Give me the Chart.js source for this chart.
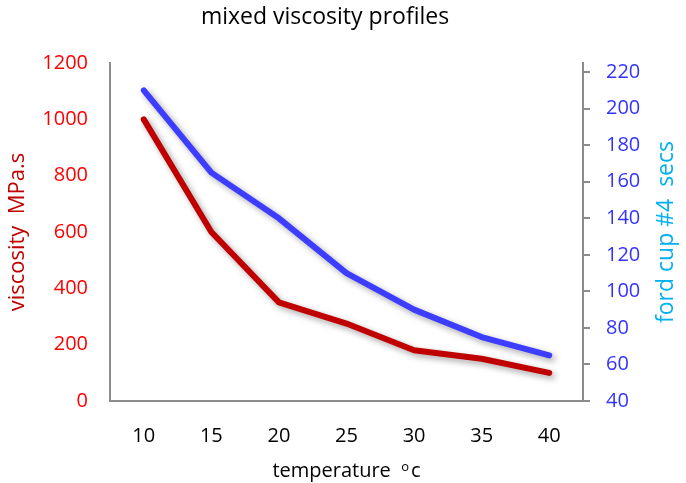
<!DOCTYPE html>
<html lang="en">
<head>
  <meta charset="UTF-8" />
  <title>mixed viscosity profiles</title>
  <script src="https://cdn.jsdelivr.net/npm/chart.js"></script>
  <style>
    body {
      margin: 0;
      background: #fff;
    }
  </style>
</head>
<body>
  <canvas id="chart" width="686" height="483"></canvas>

  <script>
    const temperatures = ["10", "15", "20", "25", "30", "35", "40"];
    const viscosity = [1000, 600, 350, 275, 180, 150, 100];
    const fordCup = [210, 165, 140, 110, 90, 75, 65];
    const rightTicks = [40, 60, 80, 100, 120, 140, 160, 180, 200, 220];

    const FONT = "'Open Sans', sans-serif";
    const axisGrey = "#8c8c8c";

    // soft drop shadow under each line, like the original
    const lineShadow = {
      id: "lineShadow",
      beforeDatasetDraw(chart) {
        const ctx = chart.ctx;
        ctx.save();
        ctx.shadowColor = "rgba(0,0,0,0.35)";
        ctx.shadowBlur = 6;
        ctx.shadowOffsetX = 3;
        ctx.shadowOffsetY = 3;
      },
      afterDatasetDraw(chart) {
        chart.ctx.restore();
      }
    };

    // texts chart.js can't place quite like the original:
    // off-centre title, bottom-to-top right title, superscript o in the x title
    const extraText = {
      id: "extraText",
      afterDraw(chart) {
        const ctx = chart.ctx;
        const area = chart.chartArea;
        ctx.save();

        ctx.font = "23px " + FONT;
        ctx.fillStyle = "#000";
        ctx.textAlign = "center";
        ctx.textBaseline = "middle";
        ctx.fillText("mixed viscosity profiles", 325, 17);

        ctx.save();
        ctx.translate(666, (area.top + area.bottom) / 2);
        ctx.rotate(-Math.PI / 2);
        ctx.fillStyle = "#00b0f0";
        ctx.fillText("ford cup #4  secs", 0, 0);
        ctx.restore();

        const main = "temperature  ";
        ctx.textAlign = "left";
        ctx.textBaseline = "alphabetic";
        ctx.font = "20px " + FONT;
        const wMain = ctx.measureText(main).width;
        const wC = ctx.measureText("c").width;
        ctx.font = "13px " + FONT;
        const wO = ctx.measureText("o").width;
        const total = wMain + wO + 2 + wC;
        let x = (area.left + area.right) / 2 - total / 2;
        const base = 477;
        ctx.font = "20px " + FONT;
        ctx.fillText(main, x, base);
        x += wMain;
        ctx.font = "13px " + FONT;
        ctx.fillText("o", x, base - 6);
        x += wO + 2;
        ctx.font = "20px " + FONT;
        ctx.fillText("c", x, base);

        ctx.restore();
      }
    };

    const ctx = document.getElementById("chart").getContext("2d");
    new Chart(ctx, {
      type: "line",
      data: {
        labels: temperatures,
        datasets: [
          {
            label: "viscosity",
            data: viscosity,
            yAxisID: "y",
            borderColor: "#c00000",
            borderWidth: 6,
            borderCapStyle: "round",
            borderJoinStyle: "round",
            pointRadius: 0,
            tension: 0
          },
          {
            label: "ford cup #4",
            data: fordCup,
            yAxisID: "y2",
            borderColor: "#3d3dff",
            borderWidth: 6,
            borderCapStyle: "round",
            borderJoinStyle: "round",
            pointRadius: 0,
            tension: 0
          }
        ]
      },
      options: {
        responsive: false,
        animation: false,
        layout: { padding: { top: 63 } },
        plugins: {
          legend: { display: false },
          tooltip: { enabled: false },
          title: { display: false }
        },
        scales: {
          x: {
            offset: true,
            grid: { display: false, drawTicks: false },
            border: { display: true, color: axisGrey, width: 2 },
            ticks: {
              color: "#000",
              font: { family: FONT, size: 20 },
              padding: 23,
              maxRotation: 0
            },
            afterFit(scale) { scale.height = 82; }
          },
          y: {
            position: "left",
            min: 0,
            max: 1200,
            grid: { display: false, drawTicks: false },
            border: { display: true, color: axisGrey, width: 2 },
            ticks: {
              stepSize: 200,
              color: "#ff0000",
              font: { family: FONT, size: 20 },
              padding: 22,
              callback: v => String(v)
            },
            title: {
              display: true,
              text: "viscosity  MPa.s",
              color: "#c00000",
              font: { family: FONT, size: 22 },
              padding: { top: 5, bottom: 0 }
            },
            afterFit(scale) { scale.width = 110; }
          },
          y2: {
            position: "right",
            min: 40,
            max: 225,
            grid: {
              display: true,
              drawOnChartArea: false,
              drawTicks: true,
              tickLength: 7,
              color: axisGrey,
              lineWidth: 2
            },
            border: { display: true, color: axisGrey, width: 2 },
            ticks: {
              color: "#3333ff",
              font: { family: FONT, size: 20 },
              padding: 16,
              callback: v => String(v)
            },
            afterBuildTicks(scale) {
              scale.ticks = rightTicks.map(v => ({ value: v }));
            },
            afterFit(scale) { scale.width = 103; }
          }
        }
      },
      plugins: [lineShadow, extraText]
    });
  </script>
</body>
</html>
